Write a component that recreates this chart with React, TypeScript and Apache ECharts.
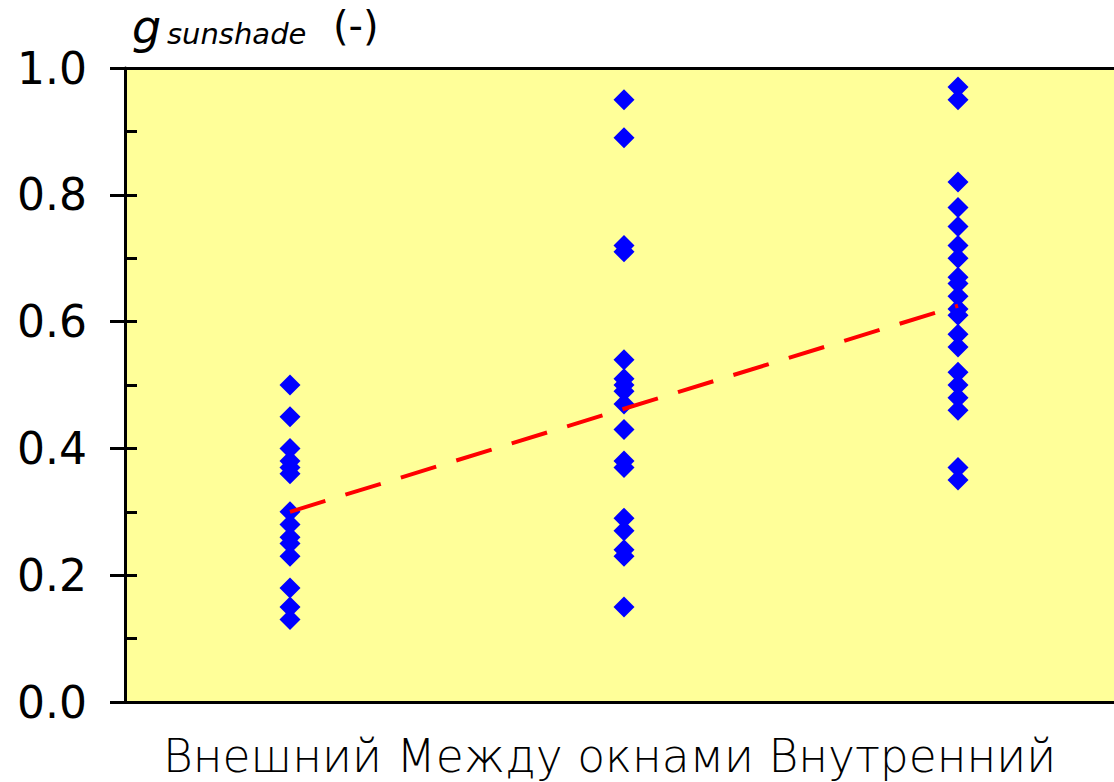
import React, { useEffect, useRef } from "react";
import * as echarts from "echarts";

const categoryPositions = [1, 2, 3];
const categoryText = "Внешний Между окнами Внутренний";

const valuesExternal = [0.5, 0.45, 0.4, 0.38, 0.37, 0.36, 0.3, 0.28, 0.26, 0.25, 0.23, 0.18, 0.15, 0.13];
const valuesBetween = [0.95, 0.89, 0.72, 0.71, 0.54, 0.51, 0.5, 0.49, 0.47, 0.43, 0.38, 0.37, 0.29, 0.27, 0.24, 0.23, 0.15];
const valuesInternal = [0.97, 0.95, 0.82, 0.78, 0.75, 0.72, 0.7, 0.67, 0.66, 0.64, 0.62, 0.61, 0.58, 0.56, 0.52, 0.5, 0.48, 0.46, 0.37, 0.35];

const trendX = [1, 3];
const trendY = [0.3, 0.625];

const yTicks = [0, 0.2, 0.4, 0.6, 0.8, 1.0];

export default function App() {
  const ref = useRef<HTMLDivElement>(null);
  useEffect(() => {
    if (!ref.current) return;
    const chart = echarts.init(ref.current, null, { renderer: "svg" });
    const groups = [valuesExternal, valuesBetween, valuesInternal];
    const scatterData: number[][] = [];
    groups.forEach((vals, i) => vals.forEach((v) => scatterData.push([categoryPositions[i], v])));
    const trendData = trendX.map((x, i) => [x, trendY[i]]);
    const font = "DejaVu Sans";
    const xMin = 0.506;
    const xMax = xMin + 989 / 334;
    chart.setOption({
      animation: false,
      grid: {
        left: 125,
        top: 68,
        bottom: 80,
        right: 0,
        show: true,
        backgroundColor: "#FFFF99",
        borderWidth: 0,
      },
      xAxis: [
        {
          type: "value",
          min: xMin,
          max: xMax,
          axisLine: { show: true, onZero: false, lineStyle: { color: "#000", width: 3 } },
          axisTick: { show: false },
          axisLabel: { show: false },
          splitLine: { show: false },
        },
        {
          type: "value",
          position: "top",
          min: xMin,
          max: xMax,
          axisLine: { show: true, onZero: false, lineStyle: { color: "#000", width: 3 } },
          axisTick: { show: false },
          axisLabel: { show: false },
          splitLine: { show: false },
        },
      ],
      yAxis: [
        {
          type: "value",
          min: 0,
          max: 1,
          interval: 0.2,
          axisLine: { show: true, onZero: false, lineStyle: { color: "#000", width: 3 } },
          axisTick: { show: true, inside: false, length: 15, lineStyle: { color: "#000", width: 3 } },
          axisLabel: {
            margin: 38,
            fontFamily: font,
            fontSize: 44,
            color: "#000",
            formatter: (v: number) => (yTicks.includes(Math.round(v * 10) / 10) ? v.toFixed(1) : ""),
          },
          splitLine: { show: false },
        },
        {
          type: "value",
          position: "left",
          min: 0,
          max: 1,
          interval: 0.1,
          axisLine: { show: false },
          axisTick: { show: true, inside: true, length: 12, lineStyle: { color: "#000", width: 3 } },
          axisLabel: { show: false },
          splitLine: { show: false },
        },
      ],
      series: [
        {
          type: "scatter",
          data: scatterData,
          symbol: "diamond",
          symbolSize: [21, 21],
          itemStyle: { color: "#0000FF", opacity: 1 },
          z: 2,
        },
        {
          type: "line",
          data: trendData,
          showSymbol: false,
          symbol: "none",
          lineStyle: { color: "#FF0000", width: 4, type: [37, 21] },
          z: 3,
        },
      ],
      graphic: [
        {
          type: "text",
          x: 132,
          y: 27,
          style: { text: "g", font: `italic 46px '${font}'`, fill: "#000", verticalAlign: "middle", align: "left" },
        },
        {
          type: "text",
          x: 167,
          y: 34,
          style: { text: "sunshade", font: `italic 29px '${font}'`, fill: "#000", verticalAlign: "middle", align: "left" },
        },
        {
          type: "text",
          x: 333,
          y: 26,
          style: { text: "(-)", font: `40px '${font}'`, fill: "#000", verticalAlign: "middle", align: "left" },
        },
        {
          type: "text",
          x: 163,
          y: 756,
          style: { text: categoryText, font: `200 45.5px '${font}'`, fill: "#000", verticalAlign: "middle", align: "left" },
        },
      ],
    });
    return () => chart.dispose();
  }, []);
  return (
    <div
      ref={ref}
      style={{ position: "absolute", left: 0, top: 0, width: 1114, height: 782 }}
    />
  );
}
